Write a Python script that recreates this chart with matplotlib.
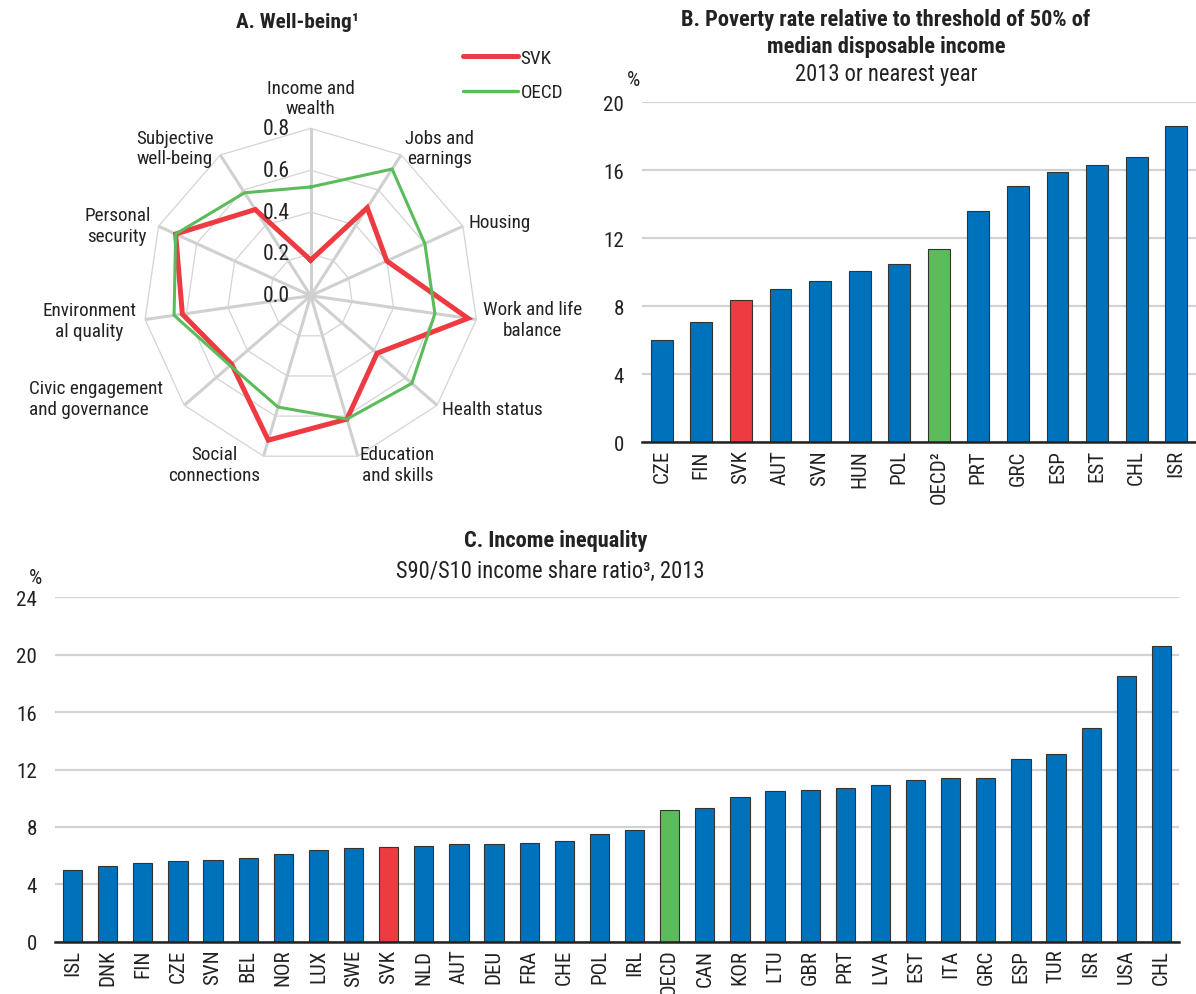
import numpy as np
import matplotlib
matplotlib.use("Agg")
import matplotlib.pyplot as plt
from matplotlib.lines import Line2D
from matplotlib import font_manager

# ---------------- data ----------------
dims = ["Income and\nwealth", "Jobs and\nearnings", "Housing", "Work and life\nbalance",
        "Health status", "Education\nand skills", "Social\nconnections",
        "Civic engagement\nand governance", "Environment\nal quality",
        "Personal\nsecurity", "Subjective\nwell-being"]
svk_wb = [0.17, 0.50, 0.40, 0.76, 0.42, 0.615, 0.72, 0.50, 0.62, 0.71, 0.49]
oecd_wb = [0.52, 0.72, 0.60, 0.60, 0.64, 0.615, 0.555, 0.51, 0.66, 0.71, 0.585]
radar_ticks = [0.0, 0.2, 0.4, 0.6, 0.8]

pov_countries = ["CZE", "FIN", "SVK", "AUT", "SVN", "HUN", "POL", "OECD²",
                 "PRT", "GRC", "ESP", "EST", "CHL", "ISR"]
pov_values = [6.0, 7.1, 8.4, 9.0, 9.5, 10.1, 10.5, 11.4, 13.6, 15.1, 15.9, 16.3, 16.8, 18.6]
pov_ticks = [0, 4, 8, 12, 16, 20]

ineq_countries = ["ISL", "DNK", "FIN", "CZE", "SVN", "BEL", "NOR", "LUX", "SWE", "SVK",
                  "NLD", "AUT", "DEU", "FRA", "CHE", "POL", "IRL", "OECD", "CAN", "KOR",
                  "LTU", "GBR", "PRT", "LVA", "EST", "ITA", "GRC", "ESP", "TUR", "ISR",
                  "USA", "CHL"]
ineq_values = [5.0, 5.3, 5.5, 5.6, 5.7, 5.8, 6.1, 6.4, 6.5, 6.6,
               6.7, 6.8, 6.8, 6.9, 7.0, 7.5, 7.8, 9.2, 9.3, 10.1,
               10.5, 10.6, 10.7, 10.9, 11.3, 11.4, 11.4, 12.7, 13.1, 14.9,
               18.5, 20.6]
ineq_ticks = [0, 4, 8, 12, 16, 20, 24]

# ---------------- fonts ----------------
available = {f.name for f in font_manager.fontManager.ttflist}
FONT, FS = 'Liberation Sans', 1.0
for cand, scale in [('Roboto Condensed', 1.12), ('Liberation Sans Narrow', 1.15),
                    ('DejaVu Sans Condensed', 0.95)]:
    if cand in available:
        FONT, FS = cand, scale
        break
plt.rcParams['font.family'] = [FONT, 'DejaVu Sans']

# ---------------- style ----------------
W, H = 1196, 995
BLUE = '#0072BB'
RED = '#EE3A41'
GREEN = '#5CBB5B'
GRID = '#d2d2d2'
TXT = '#222222'
F_RAD = 12.3 * FS
F_LAB = 13.5 * FS
F_TICK = 13.5 * FS
F_TITLE = 14.4 * FS
F_SUB = 14.5 * FS

fig = plt.figure(figsize=(W / 100, H / 100), dpi=100)


def fx(px):
    return px / W


def fy(py):
    return 1 - py / H


def pt(px):
    return px * 0.72


# ---------------- Panel A: radar ----------------
cx, cy, R = 310.7, 296.7, 167.3
axA = fig.add_axes([fx(cx - R), fy(cy + R), 2 * R / W, 2 * R / H], projection='polar')
axA.set_theta_offset(np.pi / 2)
axA.set_theta_direction(-1)
axA.set_ylim(0, 0.8)
axA.grid(False)
axA.set_xticks([])
axA.set_yticks([])
axA.spines['polar'].set_visible(False)
axA.patch.set_visible(False)

n = len(dims)
theta = np.arange(n) * 2 * np.pi / n
theta_c = np.append(theta, theta[0])

for t in theta:
    axA.plot([t, t], [0, 0.8], color='#d0d0d0', lw=2.2, clip_on=False, zorder=1,
             solid_capstyle='butt')
for r in radar_ticks[1:]:
    axA.plot(theta_c, [r] * (n + 1), color='#d4d4d4', lw=0.9, clip_on=False, zorder=1)

axA.plot(theta_c, np.append(svk_wb, svk_wb[0]), color=RED, lw=3.6,
         clip_on=False, zorder=3, solid_joinstyle='miter')
axA.plot(theta_c, np.append(oecd_wb, oecd_wb[0]), color=GREEN, lw=2.2,
         clip_on=False, zorder=4, solid_joinstyle='miter')

for r in radar_ticks:
    axA.annotate(f"{r:.1f}", xy=(0, r), xytext=(pt(-21), 0), textcoords='offset points',
                 ha='right', va='center', fontsize=F_TICK + 0.5, color=TXT)

# label placement: (dx px, dy px (up positive), ha, va, multialignment)
lab_pos = [
    (0, 11, 'center', 'bottom', 'center'),
    (4, 7, 'left', 'center', 'center'),
    (6, 4, 'left', 'center', 'center'),
    (7, 0, 'left', 'center', 'center'),
    (5, -4, 'left', 'center', 'center'),
    (2, -8, 'left', 'center', 'center'),
    (-3, -8, 'right', 'center', 'center'),
    (-21, 7, 'right', 'center', 'left'),
    (-9, -1, 'right', 'center', 'center'),
    (-8, 1, 'right', 'center', 'center'),
    (-7, 7, 'right', 'center', 'center'),
]
for t, lab, (dx, dy, ha, va, ma) in zip(theta, dims, lab_pos):
    axA.annotate(lab, xy=(t, 0.8), xytext=(pt(dx), pt(dy)), textcoords='offset points',
                 ha=ha, va=va, multialignment=ma, fontsize=F_RAD, color=TXT,
                 linespacing=1.2, annotation_clip=False)

fig.text(fx(298), fy(22), "A. Well-being¹", ha='center', va='center',
         fontsize=F_TITLE * 0.95, fontweight='bold', color=TXT)

fig.legend([Line2D([], [], color=RED, lw=3.6, solid_capstyle='round'),
            Line2D([], [], color=GREEN, lw=2.4, solid_capstyle='round')],
           ["SVK", "OECD"], loc='upper left', bbox_to_anchor=(fx(463), fy(50)),
           frameon=False, fontsize=F_RAD, handlelength=2.9, handletextpad=0.1,
           labelspacing=0.85, borderpad=0, borderaxespad=0, labelcolor=TXT)


# ---------------- bar helper ----------------
def bar_panel(ax, cats, vals, ticks, highlight):
    x = np.arange(len(cats))
    cols = []
    for c in cats:
        if c == highlight:
            cols.append(RED)
        elif c.startswith('OECD'):
            cols.append(GREEN)
        else:
            cols.append(BLUE)
    ax.bar(x, vals, width=0.55, color=cols, edgecolor='#333333', linewidth=0.8, zorder=3)
    ax.set_xlim(-0.5, len(cats) - 0.5)
    ax.set_ylim(0, ticks[-1])
    ax.set_yticks(ticks)
    ax.set_yticklabels([str(t) for t in ticks])
    ax.set_xticks(x)
    ax.set_xticklabels(cats, rotation=90, fontsize=F_LAB, color=TXT)
    ax.tick_params(axis='x', length=0, pad=5)
    ax.tick_params(axis='y', length=0, pad=13, labelsize=F_TICK, labelcolor=TXT)
    ax.yaxis.grid(True, color=GRID, lw=1.6, zorder=0)
    ax.set_axisbelow(True)
    for s in ['top', 'right', 'left']:
        ax.spines[s].set_visible(False)
    ax.spines['bottom'].set_color('#222222')
    ax.spines['bottom'].set_linewidth(1.8)
    ax.spines['bottom'].set_zorder(5)


# ---------------- Panel B ----------------
axB = fig.add_axes([fx(642), fy(443.3), fx(1196 - 642), (443.3 - 103.3) / H])
bar_panel(axB, pov_countries, pov_values, pov_ticks, 'SVK')
fig.text(fx(886), fy(20), "B. Poverty rate relative to threshold of 50% of",
         ha='center', va='center', fontsize=F_TITLE, fontweight='bold', color=TXT)
fig.text(fx(886), fy(47), "median disposable income",
         ha='center', va='center', fontsize=F_TITLE, fontweight='bold', color=TXT)
fig.text(fx(886), fy(74), "2013 or nearest year",
         ha='center', va='center', fontsize=F_SUB, color=TXT)
fig.text(fx(634), fy(80), "%", ha='center', va='center', fontsize=F_TICK, color=TXT)

# ---------------- Panel C ----------------
axC = fig.add_axes([fx(55), fy(942.7), fx(1179 - 55), (942.7 - 598.3) / H])
bar_panel(axC, ineq_countries, ineq_values, ineq_ticks, 'SVK')
fig.text(fx(556), fy(541), "C. Income inequality",
         ha='center', va='center', fontsize=F_TITLE, fontweight='bold', color=TXT)
fig.text(fx(550), fy(571), "S90/S10 income share ratio³, 2013",
         ha='center', va='center', fontsize=F_SUB, color=TXT)
fig.text(fx(36), fy(578), "%", ha='center', va='center', fontsize=F_TICK, color=TXT)

fig.savefig("out.png", dpi=100)
